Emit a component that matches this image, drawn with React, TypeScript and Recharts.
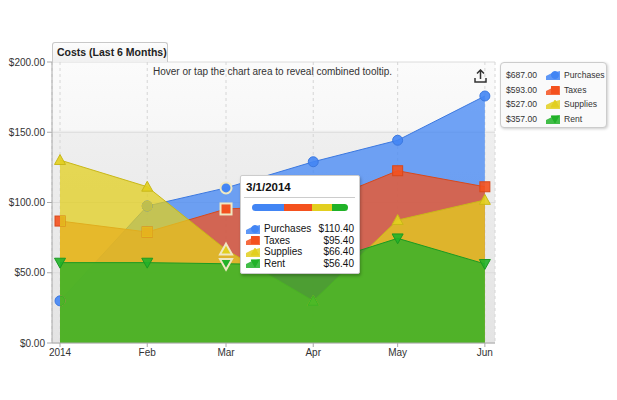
import React from "react";
import {
  Area,
  AreaChart,
  CartesianGrid,
  Tooltip,
  XAxis,
  YAxis,
} from "recharts";

// day offsets from Jan 1 2014 (time axis, months are not evenly spaced)
const dayOffsets = [0, 31, 59, 90, 120, 151];
const monthLabels = ["2014", "Feb", "Mar", "Apr", "May", "Jun"];
const dateLabels = ["1/1/2014", "2/1/2014", "3/1/2014", "4/1/2014", "5/1/2014", "6/1/2014"];

const purchases = [30, 97.5, 110.4, 129, 144.3, 175.8];
const taxes = [86.8, 79, 95.4, 98, 122.6, 111.2];
const supplies = [130.2, 111.2, 66.4, 29.9, 87.5, 101.8];
const rent = [57.2, 57.2, 56.4, 55.4, 74.5, 56.3];

const yTicks = [0, 50, 100, 150, 200];

type Kind = "circle" | "square" | "up" | "down";

const SERIES: { key: string; name: string; values: number[]; color: string; line: string; kind: Kind }[] = [
  { key: "purchases", name: "Purchases", values: purchases, color: "#4285f4", line: "#3b78e0", kind: "circle" },
  { key: "taxes", name: "Taxes", values: taxes, color: "#f4511e", line: "#d9481a", kind: "square" },
  { key: "supplies", name: "Supplies", values: supplies, color: "#e2cf1f", line: "#c9b818", kind: "up" },
  { key: "rent", name: "Rent", values: rent, color: "#20b228", line: "#1b9a22", kind: "down" },
];

const AREA_OPACITY = 0.75;

const chartData = dayOffsets.map((d, i) => ({
  day: d,
  date: dateLabels[i],
  purchases: purchases[i],
  taxes: taxes[i],
  supplies: supplies[i],
  rent: rent[i],
}));

const FONT = "'Liberation Sans', Arial, sans-serif";

function Marker({ cx, cy, kind, fill, stroke, r = 5, sw = 1, op = 1, so = 1, clip }: any) {
  if (cx == null || cy == null) return null;
  const common = { fill, fillOpacity: op, stroke, strokeWidth: sw, strokeOpacity: so, clipPath: clip };
  if (kind === "circle") return <circle cx={cx} cy={cy} r={r} {...common} />;
  if (kind === "square") return <rect x={cx - r} y={cy - r} width={r * 2} height={r * 2} {...common} />;
  const h = r * 1.1;
  const pts =
    kind === "up"
      ? `${cx},${cy - h} ${cx + r * 1.1},${cy + h * 0.8} ${cx - r * 1.1},${cy + h * 0.8}`
      : `${cx},${cy + h} ${cx + r * 1.1},${cy - h * 0.8} ${cx - r * 1.1},${cy - h * 0.8}`;
  return <polygon points={pts} {...common} />;
}

// recharts paints every dot above all areas; redraw the area tint of later
// series on top of markers that sit inside those areas
function SeriesDot({ p, si }: any) {
  const s = SERIES[si];
  const k = p.index;
  const last = dayOffsets.length - 1;
  const covers = SERIES.slice(si + 1).filter((o) => o.values[k] > s.values[k]);
  const clipId = `clip-${s.key}-${k}`;
  const half = k === 0 || k === last;
  return (
    <g>
      <Marker cx={p.cx} cy={p.cy} kind={s.kind} fill={s.color} stroke={s.line} op={0.9} />
      {half && covers.length > 0 && (
        <clipPath id={clipId}>
          <rect x={k === 0 ? p.cx : p.cx - 10} y={p.cy - 10} width={10} height={20} />
        </clipPath>
      )}
      {covers.map((o) => (
        <Marker
          key={o.key}
          cx={p.cx}
          cy={p.cy}
          kind={s.kind}
          fill={o.color}
          stroke={o.color}
          op={AREA_OPACITY}
          so={AREA_OPACITY}
          clip={half ? `url(#${clipId})` : undefined}
        />
      ))}
    </g>
  );
}

function SeriesIcon({ color, kind }: { color: string; kind: Kind }) {
  return (
    <svg width={14} height={10} style={{ display: "block", flex: "none" }}>
      <polygon points="0,10 0,6 6,3 14,1 14,10" fill={color} opacity={0.85} />
      <Marker cx={9} cy={5} kind={kind} fill={color} stroke={color} r={3.5} />
    </svg>
  );
}

function TipContent({ payload }: any) {
  if (!payload || !payload.length) return null;
  const row = payload[0].payload;
  const total = SERIES.reduce((s, x) => s + row[x.key], 0);
  return (
    <div
      style={{
        width: 120,
        background: "#fff",
        border: "1px solid #ccc",
        boxShadow: "1px 2px 3px rgba(0,0,0,0.25)",
        borderRadius: 2,
        padding: "4px 4px 4px 5px",
        fontFamily: FONT,
        fontSize: 10,
        color: "#111",
        boxSizing: "border-box",
      }}
    >
      <div style={{ fontWeight: "bold", fontSize: 11.5, lineHeight: "14px", marginBottom: 3 }}>{row.date}</div>
      <div style={{ borderTop: "1px solid #ccc", margin: "0 0 6px -2px" }} />
      <div style={{ display: "flex", height: 7, borderRadius: 4, overflow: "hidden", margin: "0 7px 12px 6px" }}>
        {SERIES.map((s) => (
          <div key={s.key} style={{ width: `${(row[s.key] / total) * 100}%`, background: s.color }} />
        ))}
      </div>
      {SERIES.map((s) => (
        <div key={s.key} style={{ display: "flex", alignItems: "center", height: 11.5 }}>
          <SeriesIcon color={s.color} kind={s.kind} />
          <span style={{ marginLeft: 4, flex: 1 }}>{s.name}</span>
          <span style={{ marginRight: 1 }}>${row[s.key].toFixed(2)}</span>
        </div>
      ))}
    </div>
  );
}

export default function App() {
  return (
    <div style={{ position: "absolute", left: 0, top: 0, width: 617, height: 400, background: "#fff", fontFamily: FONT }}>
      <AreaChart
        width={617}
        height={400}
        data={chartData}
        margin={{ top: 62, right: 122, left: 0, bottom: 27 }}
      >
        <defs>
          <linearGradient id="plotBg" x1="0" y1="0" x2="0" y2="1">
            <stop offset="0%" stopColor="#fbfbfb" />
            <stop offset="24%" stopColor="#f7f7f7" />
            <stop offset="25%" stopColor="#efefef" />
            <stop offset="100%" stopColor="#e4e4e4" />
          </linearGradient>
        </defs>
        <CartesianGrid vertical={false} stroke="#dcdcdc" fill="url(#plotBg)" />
        <CartesianGrid horizontal={false} stroke="#d6d6d6" strokeDasharray="3 3" />
        <XAxis
          dataKey="day"
          type="number"
          domain={[-2.85, 154.6]}
          ticks={dayOffsets}
          tickFormatter={(v: number) => monthLabels[dayOffsets.indexOf(v)]}
          allowDataOverflow
          height={30}
          tickSize={4}
          stroke="#aaa"
          tick={{ fill: "#333", fontSize: 10, fontFamily: FONT }}
        />
        <YAxis
          domain={[0, 200]}
          ticks={yTicks}
          width={52}
          tickSize={5}
          stroke="#aaa"
          tickFormatter={(v: number) => `$${v.toFixed(2)}`}
          tick={{ fill: "#333", fontSize: 10, fontFamily: FONT }}
        />
        <YAxis yAxisId="frame" orientation="right" width={0} tick={false} tickLine={false} stroke="#ccc" />
        <Tooltip
          defaultIndex={2}
          active
          cursor={false}
          isAnimationActive={false}
          position={{ x: 240, y: 175 }}
          allowEscapeViewBox={{ x: true, y: true }}
          wrapperStyle={{ outline: "none", zIndex: 5 }}
          content={<TipContent />}
        />
        {SERIES.map((s, i) => (
          <Area
            key={s.key}
            type="linear"
            dataKey={s.key}
            name={s.name}
            stroke={s.line}
            strokeWidth={1}
            fill={s.color}
            fillOpacity={AREA_OPACITY}
            isAnimationActive={false}
            dot={(p: any) => <SeriesDot key={`${s.key}-${p.index}`} p={p} si={i} />}
            activeDot={(p: any) => (
              <Marker key={`${s.key}-a`} cx={p.cx} cy={p.cy} kind={s.kind} fill={s.color} stroke="#efe8c2" sw={2} r={5.5} op={0.8} />
            )}
          />
        ))}
      </AreaChart>

      {/* title tab */}
      <div
        style={{
          position: "absolute",
          left: 52,
          top: 42,
          width: 116,
          height: 20,
          boxSizing: "border-box",
          border: "1px solid #c8c8c8",
          borderBottom: "none",
          borderRadius: "3px 3px 0 0",
          background: "linear-gradient(#fdfdfd, #f0f0f0)",
          fontWeight: "bold",
          fontSize: 10.5,
          lineHeight: "19px",
          paddingLeft: 4,
          color: "#222",
          whiteSpace: "nowrap",
        }}
      >
        Costs (Last 6 Months)
      </div>

      <div style={{ position: "absolute", left: 60, width: 425, top: 66, textAlign: "center", fontSize: 10, color: "#333" }}>
        Hover or tap the chart area to reveal combined tooltip.
      </div>

      {/* export icon */}
      <svg style={{ position: "absolute", left: 474, top: 69 }} width={13} height={14}>
        <path d="M6.5 1 L6.5 10 M3 4.5 L6.5 1 L10 4.5" stroke="#333" strokeWidth={1.5} fill="none" />
        <path d="M1 9 L1 13 L12 13 L12 9" stroke="#333" strokeWidth={1.5} fill="none" />
      </svg>

      {/* legend */}
      <div
        style={{
          position: "absolute",
          left: 500,
          top: 62,
          width: 107,
          height: 66,
          boxSizing: "border-box",
          border: "1px solid #ccc",
          borderRadius: 4,
          boxShadow: "1px 1px 3px rgba(0,0,0,0.2)",
          background: "#fafafa",
          padding: "5px 0 0 5px",
          fontSize: 8.6,
          color: "#333",
        }}
      >
        {SERIES.map((s) => (
          <div key={s.key} style={{ display: "flex", alignItems: "center", height: 14.5 }}>
            <span style={{ width: 40 }}>${s.values.reduce((a, b) => a + b, 0).toFixed(2)}</span>
            <SeriesIcon color={s.color} kind={s.kind} />
            <span style={{ marginLeft: 4 }}>{s.name}</span>
          </div>
        ))}
      </div>
    </div>
  );
}
